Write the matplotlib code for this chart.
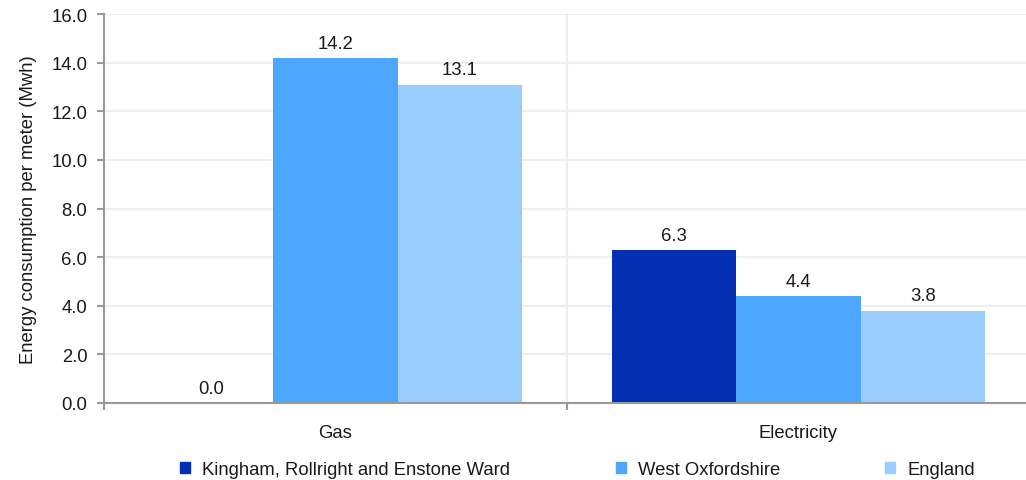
import matplotlib.pyplot as plt
import matplotlib.patches as pch
import numpy as np

plt.rcParams['font.family'] = ['Liberation Sans', 'DejaVu Sans']

# data
categories = ['Gas', 'Electricity']
series_names = ['Kingham, Rollright and Enstone Ward', 'West Oxfordshire', 'England']
values_ward = [0.0, 6.3]
values_district = [14.2, 4.4]
values_england = [13.1, 3.8]
colours = ['#0330B2', '#4DA6FF', '#99CCFF']

series_values = [values_ward, values_district, values_england]
fs = 13.3
txt_col = '#1a1a1a'

fig = plt.figure(figsize=(10.26, 4.81), dpi=100)
# axes runs slightly past the right edge, as in the original
ax = fig.add_axes([104 / 1026, 77 / 481, 926 / 1026, 389 / 481])

x = np.arange(len(categories))
bar_w = 0.269
for i, (vals, col) in enumerate(zip(series_values, colours)):
    pos = x + (i - 1) * bar_w
    bars = ax.bar(pos, vals, width=bar_w, color=col, label=series_names[i], zorder=2)
    for b, v in zip(bars, vals):
        ax.annotate(f'{v:.1f}', xy=(b.get_x() + b.get_width() / 2, v),
                    xytext=(0, 4.5), textcoords='offset points',
                    ha='center', va='bottom', fontsize=fs, color=txt_col)

ax.set_xlim(-0.5, 1.5)
ax.set_ylim(0, 16)
yticks = np.arange(0, 17, 2)
ax.set_yticks(yticks)
ax.set_yticklabels([f'{t:.1f}' for t in yticks])

ax.set_xticks(x)
ax.set_xticklabels(categories)
ax.set_xticks([-0.5, 0.5, 1.5], minor=True)
ax.tick_params(axis='x', which='major', length=0, pad=15, labelsize=fs, labelcolor=txt_col)
ax.tick_params(axis='x', which='minor', length=5, width=1.5, color='#999999')
ax.tick_params(axis='y', length=5, width=1.5, color='#999999', pad=7, labelsize=fs, labelcolor=txt_col)

ax.grid(axis='y', color='#eeeeee', linewidth=1.5, zorder=0)
ax.axvline(0.5, color='#eeeeee', linewidth=1.5, zorder=0)
ax.set_axisbelow(True)

for side in ['top', 'right']:
    ax.spines[side].set_visible(False)
for side in ['left', 'bottom']:
    ax.spines[side].set_color('#999999')
    ax.spines[side].set_linewidth(1.5)
    ax.spines[side].set_zorder(3)

ax.set_ylabel('Energy consumption per meter (Mwh)', fontsize=fs, color=txt_col, labelpad=10)

handles = [pch.Patch(color=c) for c in colours]
fig.legend(handles, series_names, loc='center', bbox_to_anchor=(0.563, 0.021), ncol=3,
           frameon=False, fontsize=fs, handlelength=0.55, handleheight=0.55,
           handletextpad=0.65, columnspacing=5.7, labelcolor=txt_col)

plt.savefig('out.png', dpi=100)
